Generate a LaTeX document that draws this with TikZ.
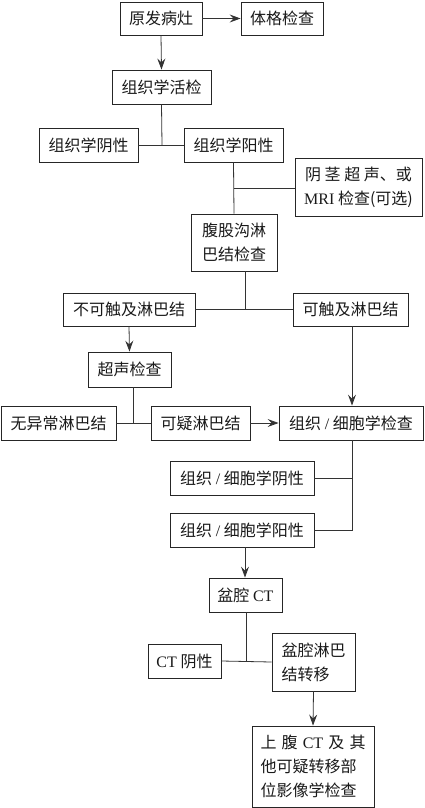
\documentclass[tikz,border=0pt]{standalone}
\usepackage{fontspec}
\setmainfont{Liberation Serif}
\newfontfamily\cjk{Noto Sans CJK SC}
\newcommand{\latn}[1]{{\rmfamily #1}}
\usetikzlibrary{arrows.meta}
\begin{document}
\begin{tikzpicture}[x=1pt,y=-1pt,
  box/.style={draw=black!85, line width=0.9pt, inner sep=0pt, font=\cjk\fontsize{16}{24}\selectfont, text=black!90},
  bx/.style 2 args={box, minimum width=#1pt, minimum height=#2pt},
  ln/.style={draw=black!80, line width=0.8pt},
  arr/.style={ln, -{Stealth[length=11pt,width=8pt,inset=4pt]}}]
\useasboundingbox (0,0) rectangle (424,808);
\node[bx={82}{33}] (yuan) at (161,18.5) {原发病灶};
\node[bx={82}{33}] (tige) at (282,18.5) {体格检查};
\node[bx={99}{34}] (huojian) at (161.5,87) {组织学活检};
\node[bx={99}{34}] (yinxing) at (88.5,145) {组织学阴性};
\node[bx={99}{34}] (yangxing) at (233.5,145) {组织学阳性};
\node[bx={127}{58}, align=center] (yinjing) at (358.5,187) {\makebox[107pt][s]{阴\hfill 茎\hfill 超\hfill 声、或}\\\latn{MRI} 检查(可选)};
\node[bx={86}{57}, align=left] (fugu) at (234,242.5) {腹股沟淋\\巴结检查};
\node[bx={132}{33}] (buke) at (129,309.5) {不可触及淋巴结};
\node[bx={115}{33}] (keshu) at (350.5,309.5) {可触及淋巴结};
\node[bx={83}{35}] (chaosheng) at (129.5,369.5) {超声检查};
\node[bx={115}{34}] (wuyi) at (58.5,423) {无异常淋巴结};
\node[bx={99}{34}] (keyi) at (200.5,423) {可疑淋巴结};
\node[bx={144}{34}] (jiancha) at (351,423) {组织 \latn{/} 细胞学检查};
\node[bx={144}{34}] (xbyin) at (242,478) {组织 \latn{/} 细胞学阴性};
\node[bx={144}{34}] (xbyang) at (242,530) {组织 \latn{/} 细胞学阳性};
\node[bx={73}{34}] (ct) at (245.5,595) {盆腔 \latn{CT}};
\node[bx={73}{34}] (ctyin) at (184.5,661) {\latn{CT} 阴性};
\node[bx={83}{58}, align=left] (zhuanyi) at (313.5,662) {盆腔淋巴\\结转移};
\node[bx={122}{81}, align=left] (shangfu) at (313,766.5) {\makebox[105pt][s]{上\hfill 腹\hfill \latn{CT}\hfill 及\hfill 其}\\他可疑转移部\\位影像学检查};
% coordinates
\coordinate (j1) at (162,145);
\coordinate (j2) at (234,188);
\coordinate (f1) at (245,271);
\coordinate (j3) at (245,309.5);
\coordinate (c1) at (133,387);
\coordinate (j4) at (133,423);
\coordinate (k1) at (352,440);
\coordinate (j5) at (352,478);
\coordinate (j6) at (352,530);
\coordinate (x1) at (245,547);
\coordinate (t1) at (246,612);
\coordinate (j7) at (246,662);
% connectors
\draw[arr] (yuan.east) -- (tige.west);
\draw[arr] (yuan.south) -- (huojian.north);
\draw[ln] (huojian.south) -- (j1);
\draw[ln] (yinxing.east) -- (yangxing.west);
\draw[ln] (yangxing.south) -- (fugu.north);
\draw[ln] (j2) -- (yinjing.west |- j2);
\draw[ln] (f1) -- (j3);
\draw[ln] (buke.east) -- (keshu.west);
\draw[arr] (buke.south) -- (chaosheng.north);
\draw[ln] (c1) -- (j4);
\draw[ln] (wuyi.east) -- (keyi.west);
\draw[arr] (keyi.east) -- (jiancha.west);
\draw[arr] (keshu.south -| k1) -- (jiancha.north -| k1);
\draw[ln] (k1) -- (j6) -- (xbyang.east);
\draw[ln] (j5) -- (xbyin.east);
\draw[arr] (x1) -- (ct.north -| x1);
\draw[ln] (t1) -- (j7);
\draw[ln] (ctyin.east) -- (zhuanyi.west |- j7);
\draw[arr] (zhuanyi.south) -- (shangfu.north);
\end{tikzpicture}
\end{document}
